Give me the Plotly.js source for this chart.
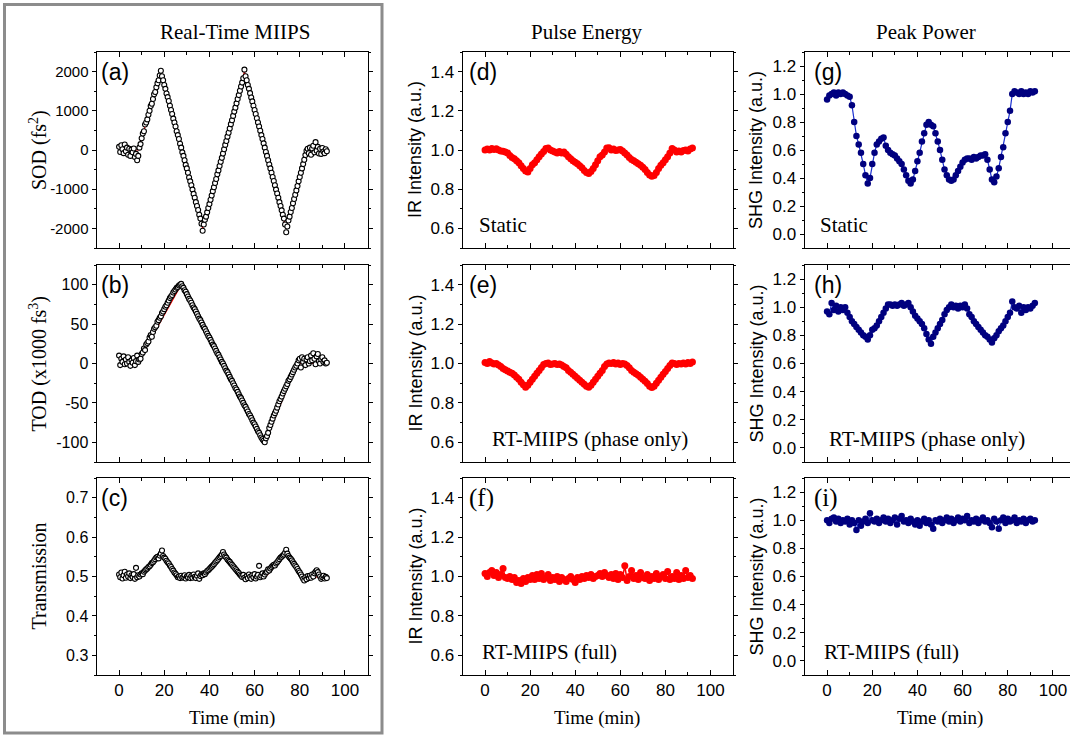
<!DOCTYPE html>
<html><head><meta charset="utf-8">
<script src="https://cdn.plot.ly/plotly-3.0.1.min.js"></script>
<style>html,body{margin:0;padding:0;overflow:hidden;background:#fff}#chart{width:1085px;height:735px}</style>
</head><body><div id="chart"></div>
<script>
// ---------------- DATA ----------------
const timeHalf = [0,0.5,1,1.5,2,2.5,3,3.5,4,4.5,5,5.5,6,6.5,7,7.5,8,8.5,9,9.5,10,10.5,11,11.5,12,12.5,13,13.5,14,14.5,15,15.5,16,16.5,17,17.5,18,18.5,19,19.5,20,20.5,21,21.5,22,22.5,23,23.5,24,24.5,25,25.5,26,26.5,27,27.5,28,28.5,29,29.5,30,30.5,31,31.5,32,32.5,33,33.5,34,34.5,35,35.5,36,36.5,37,37.5,38,38.5,39,39.5,40,40.5,41,41.5,42,42.5,43,43.5,44,44.5,45,45.5,46,46.5,47,47.5,48,48.5,49,49.5,50,50.5,51,51.5,52,52.5,53,53.5,54,54.5,55,55.5,56,56.5,57,57.5,58,58.5,59,59.5,60,60.5,61,61.5,62,62.5,63,63.5,64,64.5,65,65.5,66,66.5,67,67.5,68,68.5,69,69.5,70,70.5,71,71.5,72,72.5,73,73.5,74,74.5,75,75.5,76,76.5,77,77.5,78,78.5,79,79.5,80,80.5,81,81.5,82,82.5,83,83.5,84,84.5,85,85.5,86,86.5,87,87.5,88,88.5,89,89.5,90,90.5,91,91.5,92];

const timeMin = [0,1,2,3,4,5,6,7,8,9,10,11,12,13,14,15,16,17,18,19,20,21,22,23,24,25,26,27,28,29,30,31,32,33,34,35,36,37,38,39,40,41,42,43,44,45,46,47,48,49,50,51,52,53,54,55,56,57,58,59,60,61,62,63,64,65,66,67,68,69,70,71,72,73,74,75,76,77,78,79,80,81,82,83,84,85,86,87,88,89,90,91,92];

// (a) SOD (fs^2)
const sod = [80,-50,120,20,-80,140,-30,60,-120,30,
-150,10,-60,40,-180,-100,-260,-150,60,150,
300,420,480,650,700,780,900,1000,1120,1180,
1300,1420,1480,1600,1700,1780,1900,2020,1880,1780,
1660,1560,1440,1350,1250,1130,1020,920,800,700,
600,480,380,280,160,60,-60,-150,-260,-380,
-470,-580,-700,-800,-900,-1010,-1120,-1220,-1330,-1430,
-1530,-1650,-1750,-1880,-2060,-1900,-1780,-1700,-1590,-1480,
-1380,-1270,-1160,-1050,-950,-840,-740,-620,-520,-410,
-300,-200,-90,20,130,230,340,440,550,660,
760,870,980,1080,1190,1300,1400,1510,1620,1720,
1830,2050,1880,1780,1660,1560,1450,1340,1240,1130,
1020,920,810,700,600,490,380,280,170,60,
-50,-150,-260,-370,-470,-580,-690,-790,-900,-1010,
-1110,-1220,-1330,-1430,-1540,-1650,-1750,-1900,-2100,-1950,
-1800,-1700,-1580,-1480,-1360,-1250,-1140,-1030,-920,-800,
-690,-580,-470,-360,-250,-130,-20,30,-80,60,
-120,40,110,-60,200,-20,80,-90,30,-100,
50,-40,-80,20,-30];
const sodFitT = [0,8.5,18.5,37,55.5,74,83,92];
const sodFitV = [0,0,2000,-2000,2000,-2000,0,0];

// (b) TOD (x1000 fs^3)
const tod = [10,-2,6,2,9,-1,5,0,8,2,
-3,4,1,7,-2,3,10,2,5,6,
12,14,19,17,24,26,28,33,36,34,
40,44,46,48,53,55,58,60,64,66,
69,72,74,77,80,83,85,87,90,92,
94,96,97,99,100,101,98,96,93,91,
88,85,82,80,77,74,71,69,66,63,
60,57,55,52,49,46,44,41,38,35,
33,30,27,24,22,19,16,13,11,8,
5,2,0,-3,-6,-9,-11,-14,-17,-20,
-22,-25,-28,-31,-33,-36,-39,-42,-44,-47,
-50,-53,-55,-58,-61,-64,-66,-69,-72,-75,
-77,-80,-83,-86,-88,-91,-94,-96,-98,-100,
-95,-92,-88,-82,-78,-74,-70,-66,-63,-60,
-56,-52,-48,-45,-42,-38,-35,-32,-29,-26,
-22,-20,-17,-14,-11,-8,-5,-3,0,4,
6,-5,8,2,6,-2,5,8,0,3,
10,4,13,6,-1,9,12,3,0,5,
8,2,4,0,1];
const todFitT = [0,8,27.5,64.5,79,92];
const todFitV = [0,0,100,-100,0,0];

// (c) Transmission
const trans = [0.505,0.498,0.510,0.495,0.503,0.512,0.497,0.505,0.500,0.508,
0.496,0.503,0.499,0.506,0.494,0.522,0.498,0.503,0.500,0.505,
0.508,0.506,0.512,0.515,0.518,0.520,0.524,0.526,0.530,0.534,
0.536,0.540,0.544,0.548,0.550,0.546,0.553,0.558,0.566,0.552,
0.548,0.545,0.540,0.536,0.533,0.528,0.524,0.519,0.515,0.510,
0.507,0.503,0.498,0.500,0.496,0.502,0.497,0.499,0.503,0.495,
0.500,0.498,0.504,0.496,0.501,0.497,0.505,0.499,0.496,0.502,
0.508,0.494,0.501,0.505,0.503,0.508,0.506,0.510,0.514,0.516,
0.519,0.522,0.525,0.528,0.531,0.535,0.538,0.541,0.545,0.549,
0.552,0.556,0.562,0.556,0.551,0.548,0.543,0.540,0.537,0.533,
0.530,0.526,0.523,0.519,0.516,0.512,0.509,0.505,0.502,0.499,
0.504,0.497,0.493,0.501,0.496,0.505,0.499,0.494,0.503,0.498,
0.506,0.495,0.500,0.504,0.527,0.498,0.502,0.508,0.500,0.505,
0.510,0.512,0.518,0.515,0.520,0.524,0.527,0.530,0.528,0.533,
0.536,0.540,0.544,0.548,0.550,0.553,0.556,0.560,0.568,0.558,
0.552,0.548,0.545,0.541,0.536,0.532,0.528,0.524,0.519,0.514,
0.510,0.505,0.500,0.494,0.490,0.498,0.493,0.501,0.496,0.502,
0.497,0.505,0.500,0.508,0.512,0.516,0.511,0.505,0.500,0.494,
0.498,0.502,0.495,0.499,0.496];
const transFitT = [0,9,19,26.5,37,46,54.5,65,74,81.5,92];
const transFitV = [0.5,0.5,0.555,0.5,0.5,0.556,0.5,0.5,0.558,0.497,0.5];

// (d) IR static
const irStatic = [1.000,1.005,1.000,1.008,1.003,1.007,1.000,0.995,0.993,0.990,
0.985,0.972,0.962,0.955,0.945,0.935,0.920,0.905,0.893,0.888,
0.905,0.925,0.935,0.950,0.965,0.980,0.992,1.008,1.010,1.000,
0.995,0.990,0.985,0.992,0.985,0.990,0.978,0.965,0.955,0.945,
0.938,0.930,0.920,0.910,0.895,0.885,0.880,0.890,0.905,0.925,
0.945,0.965,0.975,0.990,1.010,1.012,1.000,1.005,0.998,1.000,
1.002,0.995,0.985,0.975,0.962,0.952,0.945,0.938,0.930,0.922,
0.912,0.900,0.885,0.872,0.866,0.870,0.885,0.905,0.922,0.935,
0.950,0.965,0.985,1.008,1.000,0.990,0.995,0.990,0.998,1.000,
0.995,1.005,1.010];
// (e) IR RT-MIIPS phase only
const irPhase = [1.005,1.000,1.010,1.003,0.998,1.000,0.993,0.985,0.975,0.968,
0.962,0.955,0.950,0.942,0.930,0.920,0.905,0.892,0.880,0.890,
0.905,0.920,0.935,0.950,0.965,0.980,0.995,1.000,1.002,0.995,
0.998,1.000,0.995,0.998,0.993,0.985,0.978,0.965,0.955,0.945,
0.935,0.925,0.915,0.905,0.895,0.885,0.880,0.890,0.905,0.920,
0.935,0.950,0.965,0.985,0.998,1.003,1.000,1.005,0.998,1.003,
0.995,1.000,0.998,0.990,0.978,0.965,0.955,0.948,0.940,0.930,
0.920,0.910,0.898,0.885,0.878,0.885,0.900,0.915,0.930,0.945,
0.960,0.975,0.990,1.003,1.000,0.995,1.000,0.998,1.002,0.998,
1.005,1.000,1.008];
// (f) IR RT-MIIPS full
const irFull = [1.015,1.000,1.020,1.030,1.005,1.020,0.995,1.010,1.040,0.995,
0.990,1.000,0.985,0.995,0.970,0.980,0.965,0.990,0.975,0.995,
0.985,1.005,0.985,1.010,0.990,1.015,0.985,0.995,1.010,0.980,
0.995,0.985,1.000,0.975,0.995,0.985,0.975,0.990,1.000,0.985,
0.970,0.995,0.985,1.000,0.990,1.005,0.995,1.010,0.990,1.000,
1.005,1.015,1.000,1.020,1.005,0.995,1.010,0.990,1.015,0.985,
1.010,0.995,1.055,0.980,1.000,1.030,0.990,1.005,0.985,1.020,
0.995,0.990,1.010,0.980,1.000,0.990,1.015,0.985,1.000,1.010,
0.990,1.025,0.985,1.000,0.990,1.020,0.985,1.005,0.990,1.030,
0.995,1.005,0.990];
// (g) SHG static
const shgStatic = [0.96,0.99,1.00,1.01,0.99,1.01,1.00,1.01,1.00,0.99,
0.98,0.92,0.80,0.70,0.64,0.58,0.50,0.42,0.36,0.40,
0.50,0.58,0.64,0.66,0.68,0.69,0.63,0.60,0.58,0.57,
0.56,0.54,0.52,0.50,0.46,0.42,0.38,0.36,0.39,0.45,
0.52,0.58,0.66,0.72,0.78,0.80,0.78,0.77,0.72,0.66,
0.60,0.53,0.46,0.42,0.39,0.38,0.39,0.42,0.45,0.48,
0.51,0.53,0.54,0.54,0.53,0.55,0.54,0.55,0.56,0.56,
0.57,0.53,0.46,0.39,0.37,0.41,0.47,0.55,0.62,0.72,
0.80,0.88,1.00,1.02,1.01,1.00,1.02,1.00,1.01,1.00,
1.02,1.01,1.02];
// (h) SHG RT-MIIPS phase only
const shgPhase = [0.97,0.95,1.03,0.98,1.01,0.97,1.00,0.98,1.00,0.96,
0.93,0.90,0.88,0.86,0.84,0.82,0.80,0.79,0.77,0.80,
0.84,0.85,0.87,0.90,0.93,0.96,0.99,1.02,1.02,1.01,
1.02,1.01,1.02,1.03,1.01,1.02,1.03,1.00,0.97,0.94,
0.92,0.90,0.88,0.85,0.81,0.77,0.74,0.79,0.82,0.85,
0.88,0.91,0.95,0.98,1.00,1.02,1.00,1.01,0.99,1.01,
1.00,1.02,0.99,0.95,0.93,0.90,0.88,0.86,0.84,0.82,
0.80,0.79,0.77,0.75,0.78,0.80,0.83,0.85,0.87,0.90,
0.93,0.96,1.04,1.00,0.99,1.01,0.96,1.00,0.98,1.00,
0.99,1.01,1.03];
// (i) SHG RT-MIIPS full
const shgFull = [1.00,0.98,1.01,1.02,0.99,1.01,0.98,1.00,0.99,1.01,
0.97,1.00,0.98,0.93,1.00,0.96,0.99,1.01,0.98,1.05,
1.00,0.99,1.01,0.98,1.00,1.02,0.99,1.01,0.98,1.00,
1.02,0.97,1.01,1.03,0.99,1.00,0.98,1.01,0.99,0.97,
1.00,0.96,0.99,1.01,0.98,1.00,0.97,0.94,1.00,0.99,
1.01,0.98,1.00,1.02,0.99,1.01,0.98,1.00,1.02,0.99,
1.01,1.00,1.03,0.98,1.00,0.99,1.01,0.98,1.00,1.02,
0.99,1.00,0.98,0.95,1.01,0.99,0.94,1.00,1.02,0.98,
1.01,0.99,1.00,1.02,0.98,1.00,0.99,1.01,0.98,1.00,
1.01,0.99,1.00];

// tick labels
const sodTickVals = [-2000,-1000,0,1000,2000];
const sodTickText = ['-2000','-1000','0','1000','2000'];
const todTickVals = [-100,-50,0,50,100];
const todTickText = ['-100','-50','0','50','100'];

// texts
const columnTitles = ['Real-Time MIIPS','Pulse Energy','Peak Power'];
const panelLabels = ['(a)','(b)','(c)','(d)','(e)','(f)','(g)','(h)','(i)'];
const captions = ['Static','RT-MIIPS (phase only)','RT-MIIPS (full)'];
const yTitles = ['SOD (fs<sup>2</sup>)','TOD (x1000 fs<sup>3</sup>)','Transmission','IR Intensity (a.u.)','SHG Intensity (a.u.)'];
const xTitle = 'Time (min)';

// ---------------- LAYOUT ----------------
const W = 1085, H = 735;
const px = v => v / W;
const py = v => 1 - v / H;
const colX = [[96.5,367.5],[462.5,733],[804.5,1075.5]];
const rowY = [[52,248],[265,462],[478,675]];
const SANS = 'Liberation Sans, Arial, sans-serif';
const SERIF = 'Liberation Serif, Times New Roman, serif';

const yCfg = [
  {range:[-2500,2500], tickmode:'array', tickvals:sodTickVals, ticktext:sodTickText, minor:500, size:15},
  {range:[-125,125], tickmode:'array', tickvals:todTickVals, ticktext:todTickText, minor:25, size:16},
  {range:[0.25,0.75], dtick:0.1, fmt:'.1f', minor:0.05, size:16},
  {range:[0.5,1.5], dtick:0.2, fmt:'.1f', minor:0.1, size:17},
  {range:[0.5,1.5], dtick:0.2, fmt:'.1f', minor:0.1, size:17},
  {range:[0.5,1.5], dtick:0.2, fmt:'.1f', minor:0.1, size:17},
  {range:[-0.1,1.3], dtick:0.2, fmt:'.1f', minor:0.1, size:17},
  {range:[-0.1,1.3], dtick:0.2, fmt:'.1f', minor:0.1, size:17},
  {range:[-0.1,1.3], dtick:0.2, fmt:'.1f', minor:0.1, size:17}
];

const layout = {
  width: W, height: H,
  margin: {l:0, r:0, t:0, b:0},
  paper_bgcolor: '#fff', plot_bgcolor: '#fff',
  showlegend: false,
  annotations: [], shapes: []
};

for (let k = 0; k < 9; k++) {
  const col = Math.floor(k / 3), row = k % 3;
  const sfx = k === 0 ? '' : String(k + 1);
  const c = yCfg[k];
  layout['xaxis' + sfx] = {
    domain: [px(colX[col][0]), px(colX[col][1])],
    anchor: 'y' + sfx,
    range: [-10, 110], tickmode: 'linear', tick0: 0, dtick: 20,
    ticks: 'inside', ticklen: 5, tickwidth: 1, tickcolor: '#000',
    minor: {dtick: 10, tick0: 0, ticks: 'inside', ticklen: 3, tickwidth: 1, tickcolor: '#000', showgrid: false},
    showline: true, linecolor: '#000', linewidth: 1, mirror: 'allticks',
    showgrid: false, zeroline: false,
    showticklabels: row === 2,
    tickfont: {family: SANS, size: 17, color: '#000'}
  };
  const ya = {
    domain: [py(rowY[row][1]), py(rowY[row][0])],
    anchor: 'x' + sfx,
    range: c.range,
    ticks: 'outside', ticklen: 4, tickwidth: 1, tickcolor: '#000',
    minor: {dtick: c.minor, tick0: 0, ticks: 'outside', ticklen: 2, tickwidth: 1, tickcolor: '#000', showgrid: false},
    showline: true, linecolor: '#000', linewidth: 1, mirror: 'allticks',
    showgrid: false, zeroline: false,
    tickfont: {family: SANS, size: c.size, color: '#000'}
  };
  if (c.tickmode === 'array') { ya.tickmode = 'array'; ya.tickvals = c.tickvals; ya.ticktext = c.ticktext; }
  else { ya.tickmode = 'linear'; ya.tick0 = 0; ya.dtick = c.dtick; ya.tickformat = c.fmt; }
  layout['yaxis' + sfx] = ya;

  // panel label
  const serifLabel = (k === 5 || k === 8);
  layout.annotations.push({
    xref: 'x' + sfx + ' domain', yref: 'y' + sfx + ' domain',
    x: (col === 0 ? 0.01 : (col === 1 ? 0.018 : 0.026)), y: 0.9, xanchor: 'left', yanchor: 'middle',
    text: panelLabels[k], showarrow: false,
    font: {family: serifLabel ? SERIF : SANS, size: serifLabel ? 25 : 23, color: '#000'}
  });
  // captions in columns 2, 3
  if (col > 0) {
    const capX = [[0.054, 0.10, 0.065], [0.05, 0.083, 0.065]][col - 1][row];
    layout.annotations.push({
      xref: 'x' + sfx + ' domain', yref: 'y' + sfx + ' domain',
      x: capX, y: 0.115, xanchor: 'left', yanchor: 'middle',
      text: captions[row], showarrow: false,
      font: {family: SERIF, size: 21, color: '#000'}
    });
  }
}

// column titles
const titleX = [235, 587, 926];
columnTitles.forEach((t, i) => layout.annotations.push({
  xref: 'paper', yref: 'paper', x: px(titleX[i]), y: py(32), xanchor: 'center', yanchor: 'middle',
  text: t, showarrow: false, font: {family: SERIF, size: 21, color: '#000'}
}));
// x titles
const colCenters = [232, 597, 940];
colCenters.forEach(cx => layout.annotations.push({
  xref: 'paper', yref: 'paper', x: px(cx), y: py(718), xanchor: 'center', yanchor: 'middle',
  text: xTitle, showarrow: false, font: {family: SERIF, size: 19, color: '#000'}
}));
// y titles
const rowCenters = rowY.map(r => (r[0] + r[1]) / 2);
[0,1,2].forEach(r => layout.annotations.push({
  xref: 'paper', yref: 'paper', x: px(38), y: py(rowCenters[r]), xanchor: 'center', yanchor: 'middle',
  textangle: -90, text: yTitles[r], showarrow: false, font: {family: SERIF, size: 20, color: '#000'}
}));
[0,1,2].forEach(r => layout.annotations.push({
  xref: 'paper', yref: 'paper', x: px(415), y: py(rowCenters[r]), xanchor: 'center', yanchor: 'middle',
  textangle: -90, text: yTitles[3], showarrow: false, font: {family: SANS, size: 18, color: '#000'}
}));
[0,1,2].forEach(r => layout.annotations.push({
  xref: 'paper', yref: 'paper', x: px(756), y: py(rowCenters[r]), xanchor: 'center', yanchor: 'middle',
  textangle: -90, text: yTitles[4], showarrow: false, font: {family: SANS, size: 18, color: '#000'}
}));

// gray frame around first column
layout.shapes.push({
  type: 'rect', xref: 'paper', yref: 'paper',
  x0: px(4.5), x1: px(382), y0: py(733), y1: py(4.5),
  line: {color: '#8c8c8c', width: 3}, fillcolor: 'rgba(0,0,0,0)', layer: 'below'
});

// ---------------- TRACES ----------------
const traces = [];
function ax(k) { return k === 0 ? '' : String(k + 1); }
const col1 = [[sod, sodFitT, sodFitV], [tod, todFitT, todFitV], [trans, transFitT, transFitV]];
col1.forEach((d, k) => {
  traces.push({type: 'scatter', mode: 'lines', x: d[1], y: d[2], xaxis: 'x' + ax(k), yaxis: 'y' + ax(k),
    line: {color: '#ff0000', width: 1.2}, hoverinfo: 'skip'});
  traces.push({type: 'scatter', mode: 'markers', x: timeHalf, y: d[0], xaxis: 'x' + ax(k), yaxis: 'y' + ax(k),
    marker: {symbol: 'circle', size: 5, color: '#ffffff', line: {color: '#000', width: 1.1}}});
});
[irStatic, irPhase, irFull].forEach((v, i) => {
  const k = 3 + i;
  traces.push({type: 'scatter', mode: 'lines+markers', x: timeMin, y: v, xaxis: 'x' + ax(k), yaxis: 'y' + ax(k),
    line: {color: '#ff0000', width: 1.5}, marker: {size: 7, color: '#ff0000'}});
});
[shgStatic, shgPhase, shgFull].forEach((v, i) => {
  const k = 6 + i;
  traces.push({type: 'scatter', mode: 'lines+markers', x: timeMin, y: v, xaxis: 'x' + ax(k), yaxis: 'y' + ax(k),
    line: {color: '#1a2fd0', width: 1.2}, marker: {size: 6.5, color: '#00007f'}});
});

Plotly.newPlot('chart', traces, layout, {displayModeBar: false, staticPlot: true});
</script>
</body></html>
